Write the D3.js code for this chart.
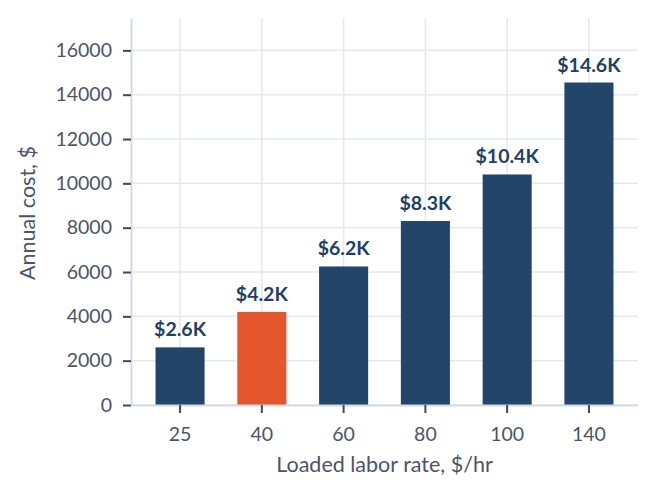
<!DOCTYPE html>
<html>
<head>
<meta charset="utf-8">
<script src="https://cdn.jsdelivr.net/npm/d3@7"></script>
<style>
  body { margin: 0; background: #fff; }
  text { font-family: Lato, "Open Sans", sans-serif; }
</style>
</head>
<body>
<div id="chart"></div>
<script>
// labor rates ($/hr) and annual cost ($)
let rates = ["25", "40", "60", "80", "100", "140"]
let costs = [2600, 4200, 6250, 8300, 10400, 14550]
let costLabels = ["$2.6K", "$4.2K", "$6.2K", "$8.3K", "$10.4K", "$14.6K"]
let highlight = "40"
let yTicks = [0, 2000, 4000, 6000, 8000, 10000, 12000, 14000, 16000]

let width = 658,
  height = 496,
  margin = { top: 18, right: 20, bottom: 91, left: 131 }

let navy = "#23456a", orange = "#e4572e", textCol = "#4a5568"
let fs = 19.5, titleFs = 21.5

let svg = d3.select("#chart").append("svg")
  .attr("width", width)
  .attr("height", height)

let x = d3.scaleBand()
  .domain(rates)
  .range([margin.left, width - margin.right])
  .paddingInner(0.4)
  .paddingOuter(0.3)

let y = d3.scaleLinear()
  .domain([0, d3.max(costs) * 1.2])
  .range([height - margin.bottom, margin.top])

// grid
svg.append("g")
  .selectAll("line.h")
  .data(yTicks)
  .enter().append("line")
  .attr("x1", margin.left).attr("x2", width - margin.right)
  .attr("y1", d => y(d)).attr("y2", d => y(d))
  .attr("stroke", "#e5e8ee").attr("stroke-width", 1.5)

svg.append("g")
  .selectAll("line.v")
  .data(rates)
  .enter().append("line")
  .attr("x1", d => x(d) + x.bandwidth() / 2).attr("x2", d => x(d) + x.bandwidth() / 2)
  .attr("y1", margin.top).attr("y2", height - margin.bottom)
  .attr("stroke", "#e5e8ee").attr("stroke-width", 1.5)

// bars
svg.append("g")
  .selectAll("rect")
  .data(rates)
  .enter().append("rect")
  .attr("x", d => x(d))
  .attr("width", x.bandwidth())
  .attr("y", (d, i) => y(costs[i]))
  .attr("height", (d, i) => y(0) - y(costs[i]))
  .attr("fill", d => d === highlight ? orange : navy)

// value labels
svg.append("g")
  .selectAll("text")
  .data(rates)
  .enter().append("text")
  .attr("x", d => x(d) + x.bandwidth() / 2)
  .attr("y", (d, i) => y(costs[i]) - 11)
  .attr("text-anchor", "middle")
  .attr("font-size", fs)
  .attr("font-weight", 700)
  .attr("fill", "#1f3f66")
  .text((d, i) => costLabels[i])

// axes
let xAxis = svg.append("g")
  .attr("transform", `translate(0,${height - margin.bottom})`)
  .call(d3.axisBottom(x).tickSize(8).tickPadding(14).tickSizeOuter(0))
let yAxis = svg.append("g")
  .attr("transform", `translate(${margin.left},0)`)
  .call(d3.axisLeft(y).tickValues(yTicks).tickFormat(d3.format("d")).tickSize(8).tickPadding(11).tickSizeOuter(0))

for (let ax of [xAxis, yAxis]) {
  ax.select(".domain").attr("stroke", "#d3dbe5").attr("stroke-width", 2)
  ax.selectAll(".tick line").attr("stroke", "#3d4a5c").attr("stroke-width", 2)
  ax.selectAll(".tick text").attr("font-size", fs).attr("fill", textCol).attr("font-family", "Lato")
}

// titles
svg.append("text")
  .attr("x", (margin.left + width - margin.right) / 2)
  .attr("y", 472)
  .attr("text-anchor", "middle")
  .attr("font-size", titleFs)
  .attr("fill", textCol)
  .text("Loaded labor rate, $/hr")

svg.append("text")
  .attr("transform", `translate(35,213) rotate(-90)`)
  .attr("text-anchor", "middle")
  .attr("font-size", titleFs)
  .attr("fill", textCol)
  .text("Annual cost, $")
</script>
</body>
</html>
